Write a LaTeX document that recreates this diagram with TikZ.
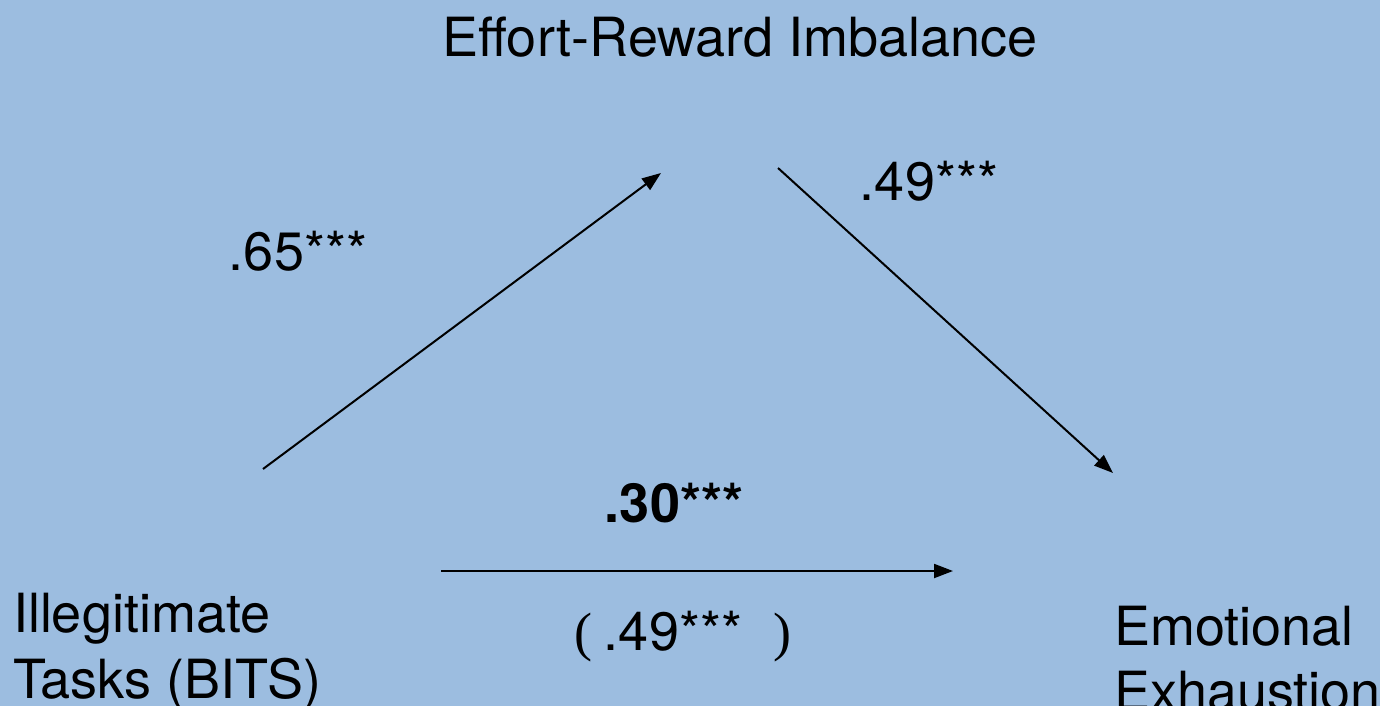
\documentclass[tikz,border=0pt]{standalone}
\usepackage{fontspec}
\setmainfont{TeX Gyre Heros}
\newfontfamily\serifparen{Liberation Serif}
\usetikzlibrary{arrows.meta}
\definecolor{bgblue}{HTML}{9CBDE0}
\tikzset{
  lbl/.style={inner sep=0pt, outer sep=0pt, font=\fontsize{54}{60}\selectfont, text=black},
  conn/.style={line width=2pt, -{Triangle[length=19pt,width=14pt]}}
}
\begin{document}
\begin{tikzpicture}[x=1pt,y=-1pt]
\fill[bgblue] (0,0) rectangle (1380,706);
\useasboundingbox (0,0) rectangle (1380,706);
% labels
\node[lbl, anchor=base] (eri) at (740,57) {Effort-Reward Imbalance};
\node[lbl, anchor=base] (a) at (298,270) {.65***};
\node[lbl, anchor=base] (b) at (929,200) {.49***};
\node[lbl, anchor=base, font=\fontsize{54}{60}\selectfont\bfseries] (c) at (674,522) {.30***};
\node[lbl, anchor=base] (cp) at (673,650) {.49***};
\node[lbl, anchor=base west, font=\fontsize{54}{60}\selectfont\serifparen] (lp) at (574,650) {(};
\node[lbl, anchor=base west, font=\fontsize{54}{60}\selectfont\serifparen] (rp) at (773,650) {)};
\node[lbl, anchor=base west, align=left] (it1) at (13,632) {Illegitimate};
\node[lbl, anchor=base west, align=left] (it2) at (13,698) {Tasks (BITS)};
\node[lbl, anchor=base west, align=left] (ee1) at (1114,645) {Emotional};
\node[lbl, anchor=base west, align=left] (ee2) at (1114,710) {Exhaustion};
% connector end points
\coordinate (p1s) at (263,469);
\coordinate (p1e) at (661,173);
\coordinate (p2s) at (778,168);
\coordinate (p2e) at (1113,473);
\coordinate (p3s) at (441,571);
\coordinate (p3e) at (953,571);
\draw[conn] (p1s) -- (p1e);
\draw[conn] (p2s) -- (p2e);
\draw[conn] (p3s) -- (p3e);
\end{tikzpicture}
\end{document}
